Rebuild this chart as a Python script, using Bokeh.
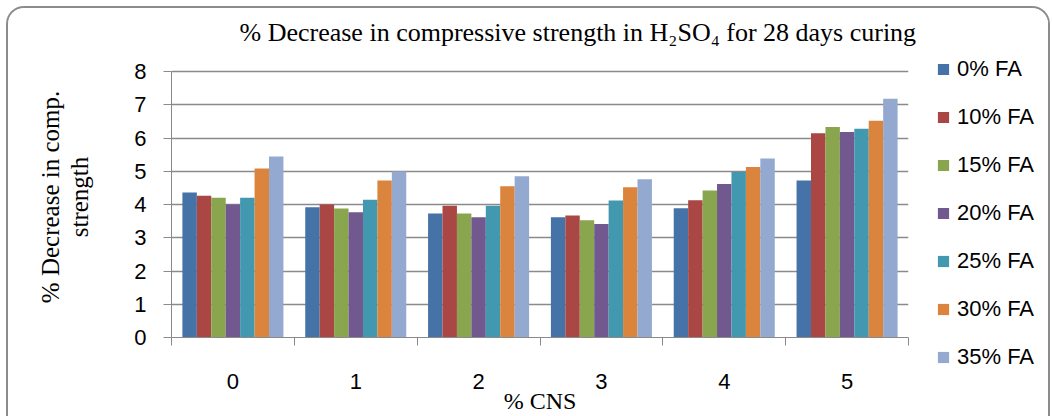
import numpy as np
from bokeh.plotting import figure
from bokeh.layouts import row
from bokeh.models import (Range1d, FixedTicker, Legend, LegendItem, Title,
                          ColumnDataSource, Plot)
from bokeh.embed import file_html
from bokeh.resources import INLINE

# ---- data ----
categories = ["0", "1", "2", "3", "4", "5"]
series_names = ["0% FA", "10% FA", "15% FA", "20% FA", "25% FA", "30% FA", "35% FA"]
fa_0 = [4.36, 3.92, 3.73, 3.62, 3.89, 4.72]
fa_10 = [4.26, 4.00, 3.96, 3.67, 4.13, 6.14]
fa_15 = [4.20, 3.88, 3.73, 3.53, 4.42, 6.33]
fa_20 = [4.00, 3.77, 3.62, 3.41, 4.62, 6.18]
fa_25 = [4.20, 4.14, 3.96, 4.12, 4.98, 6.28]
fa_30 = [5.08, 4.72, 4.55, 4.52, 5.13, 6.52]
fa_35 = [5.44, 4.99, 4.85, 4.76, 5.38, 7.18]
y_ticks = [0, 1, 2, 3, 4, 5, 6, 7, 8]
title_text = "% Decrease in compressive strength in H₂SO₄ for 28 days curing"

series_values = [fa_0, fa_10, fa_15, fa_20, fa_25, fa_30, fa_35]
colors = ["#4572A7", "#AA4643", "#89A54E", "#71588F", "#4198AF", "#DB843D", "#93A9CF"]

grey = "#8a8a8a"
sans = "Liberation Sans"
serif = "Liberation Serif"

H = 408
MAIN_W, LEG_W = 912, 128
TOP, BOTTOM = 48, 79
HAS_FRAME_ALIGN = "frame_align" in Plot.properties()

# plot area reaches a little above the top tick (room for the title panel)
y_max = 8 * (H - BOTTOM - TOP) / (H - BOTTOM - 63)

# ---- main chart ----
p = figure(width=MAIN_W, height=H, output_backend="svg", toolbar_location=None,
           x_range=Range1d(0, len(categories)), y_range=Range1d(0, y_max),
           min_border_left=163, min_border_right=12, min_border_top=TOP,
           min_border_bottom=BOTTOM)
p.outline_line_color = None
p.background_fill_color = "white"
p.border_fill_color = "white"

bar_w = 0.1175
n = len(series_names)
for j, (vals, col) in enumerate(zip(series_values, colors)):
    xs = np.arange(len(categories)) + 0.5 + (j - (n - 1) / 2) * bar_w
    src = ColumnDataSource(dict(x=xs, top=vals))
    p.vbar(x="x", top="top", width=bar_w, bottom=0, source=src,
           fill_color=col, line_color=None)

p.title = Title(text=title_text, text_font=serif, text_font_size="26px",
                text_font_style="normal", text_color="black", align="left",
                offset=68, standoff=15, vertical_align="top")

# y axis
p.yaxis.ticker = FixedTicker(ticks=y_ticks)
p.yaxis.bounds = (0, 8)
p.yaxis.axis_line_color = grey
p.yaxis.major_tick_line_color = grey
p.yaxis.major_tick_in = 0
p.yaxis.major_tick_out = 8
p.yaxis.minor_tick_line_color = None
p.yaxis.major_label_text_font = sans
p.yaxis.major_label_text_font_size = "22px"
p.yaxis.major_label_text_color = "black"
p.yaxis.major_label_standoff = 17
p.yaxis.axis_label = "% Decrease in comp.\nstrength"
p.yaxis.axis_label_text_font = serif
p.yaxis.axis_label_text_font_size = "25px"
p.yaxis.axis_label_text_font_style = "normal"
p.yaxis.axis_label_text_color = "black"
p.yaxis.axis_label_text_line_height = 1.1
p.yaxis.axis_label_standoff = 38

# x axis: labels at category centres, ticks at category boundaries
centres = [i + 0.5 for i in range(len(categories))]
bounds = [float(i) for i in range(len(categories) + 1)]
p.xaxis.ticker = FixedTicker(ticks=centres, minor_ticks=bounds)
p.xaxis.major_label_overrides = {c: lab for c, lab in zip(centres, categories)}
p.xaxis.axis_line_color = grey
p.xaxis.major_tick_line_color = None
p.xaxis.major_tick_in = 0
p.xaxis.major_tick_out = 0
p.xaxis.minor_tick_line_color = grey
p.xaxis.minor_tick_in = 0
p.xaxis.minor_tick_out = 8
p.xaxis.major_label_text_font = sans
p.xaxis.major_label_text_font_size = "22px"
p.xaxis.major_label_text_color = "black"
p.xaxis.major_label_standoff = 28
p.xaxis.axis_label = "% CNS"
p.xaxis.axis_label_text_font = serif
p.xaxis.axis_label_text_font_size = "24px"
p.xaxis.axis_label_text_font_style = "normal"
p.xaxis.axis_label_text_color = "black"
p.xaxis.axis_label_standoff = -4

p.xgrid.grid_line_color = None
p.ygrid.grid_line_color = grey
p.ygrid.grid_line_width = 1.3

# ---- legend panel ----
if HAS_FRAME_ALIGN:
    pl = figure(width=LEG_W, height=H, output_backend="svg",
                toolbar_location=None, x_axis_type=None, y_axis_type=None,
                x_range=Range1d(0, 1), y_range=Range1d(0, 1), min_border=0)
    pl.frame_align = False
    p.frame_align = False
    leg_loc, leg_spacing = (16, 46), 22
else:
    pl = figure(width=LEG_W, height=H, output_backend="svg",
                toolbar_location=None, x_axis_type=None, y_axis_type=None,
                x_range=Range1d(0, 1), y_range=Range1d(0, 1),
                min_border_left=0, min_border_right=0,
                min_border_top=TOP, min_border_bottom=BOTTOM)
    leg_loc, leg_spacing = (16, 0), 16
pl.outline_line_color = None
pl.background_fill_color = "white"
pl.border_fill_color = "white"
pl.xgrid.visible = False
pl.ygrid.visible = False

items = []
for name, col in zip(series_names, colors):
    # zero-height proxy bar: only its colour is used, by the legend swatch
    r = pl.vbar(x=[0.5], top=[0], bottom=[0], width=0.0, fill_color=col,
                line_color=None)
    items.append(LegendItem(label=name, renderers=[r]))
legend = Legend(items=items, location=leg_loc, orientation="vertical",
                glyph_width=14, glyph_height=14, label_height=26,
                spacing=leg_spacing, label_standoff=7, padding=0, margin=0,
                label_text_font=sans, label_text_font_size="22px",
                label_text_color="black", border_line_color=None,
                background_fill_alpha=0)
pl.add_layout(legend, "center")

layout = row(p, pl, spacing=0,
             styles={"margin-left": "6px", "margin-top": "6px",
                     "border-top": "2px solid #8c8c8c",
                     "border-left": "2px solid #8c8c8c",
                     "border-right": "2px solid #8c8c8c",
                     "border-radius": "18px 18px 0 0",
                     "overflow": "hidden", "background": "white"})

open("out.html", "w").write(file_html(layout, INLINE))
